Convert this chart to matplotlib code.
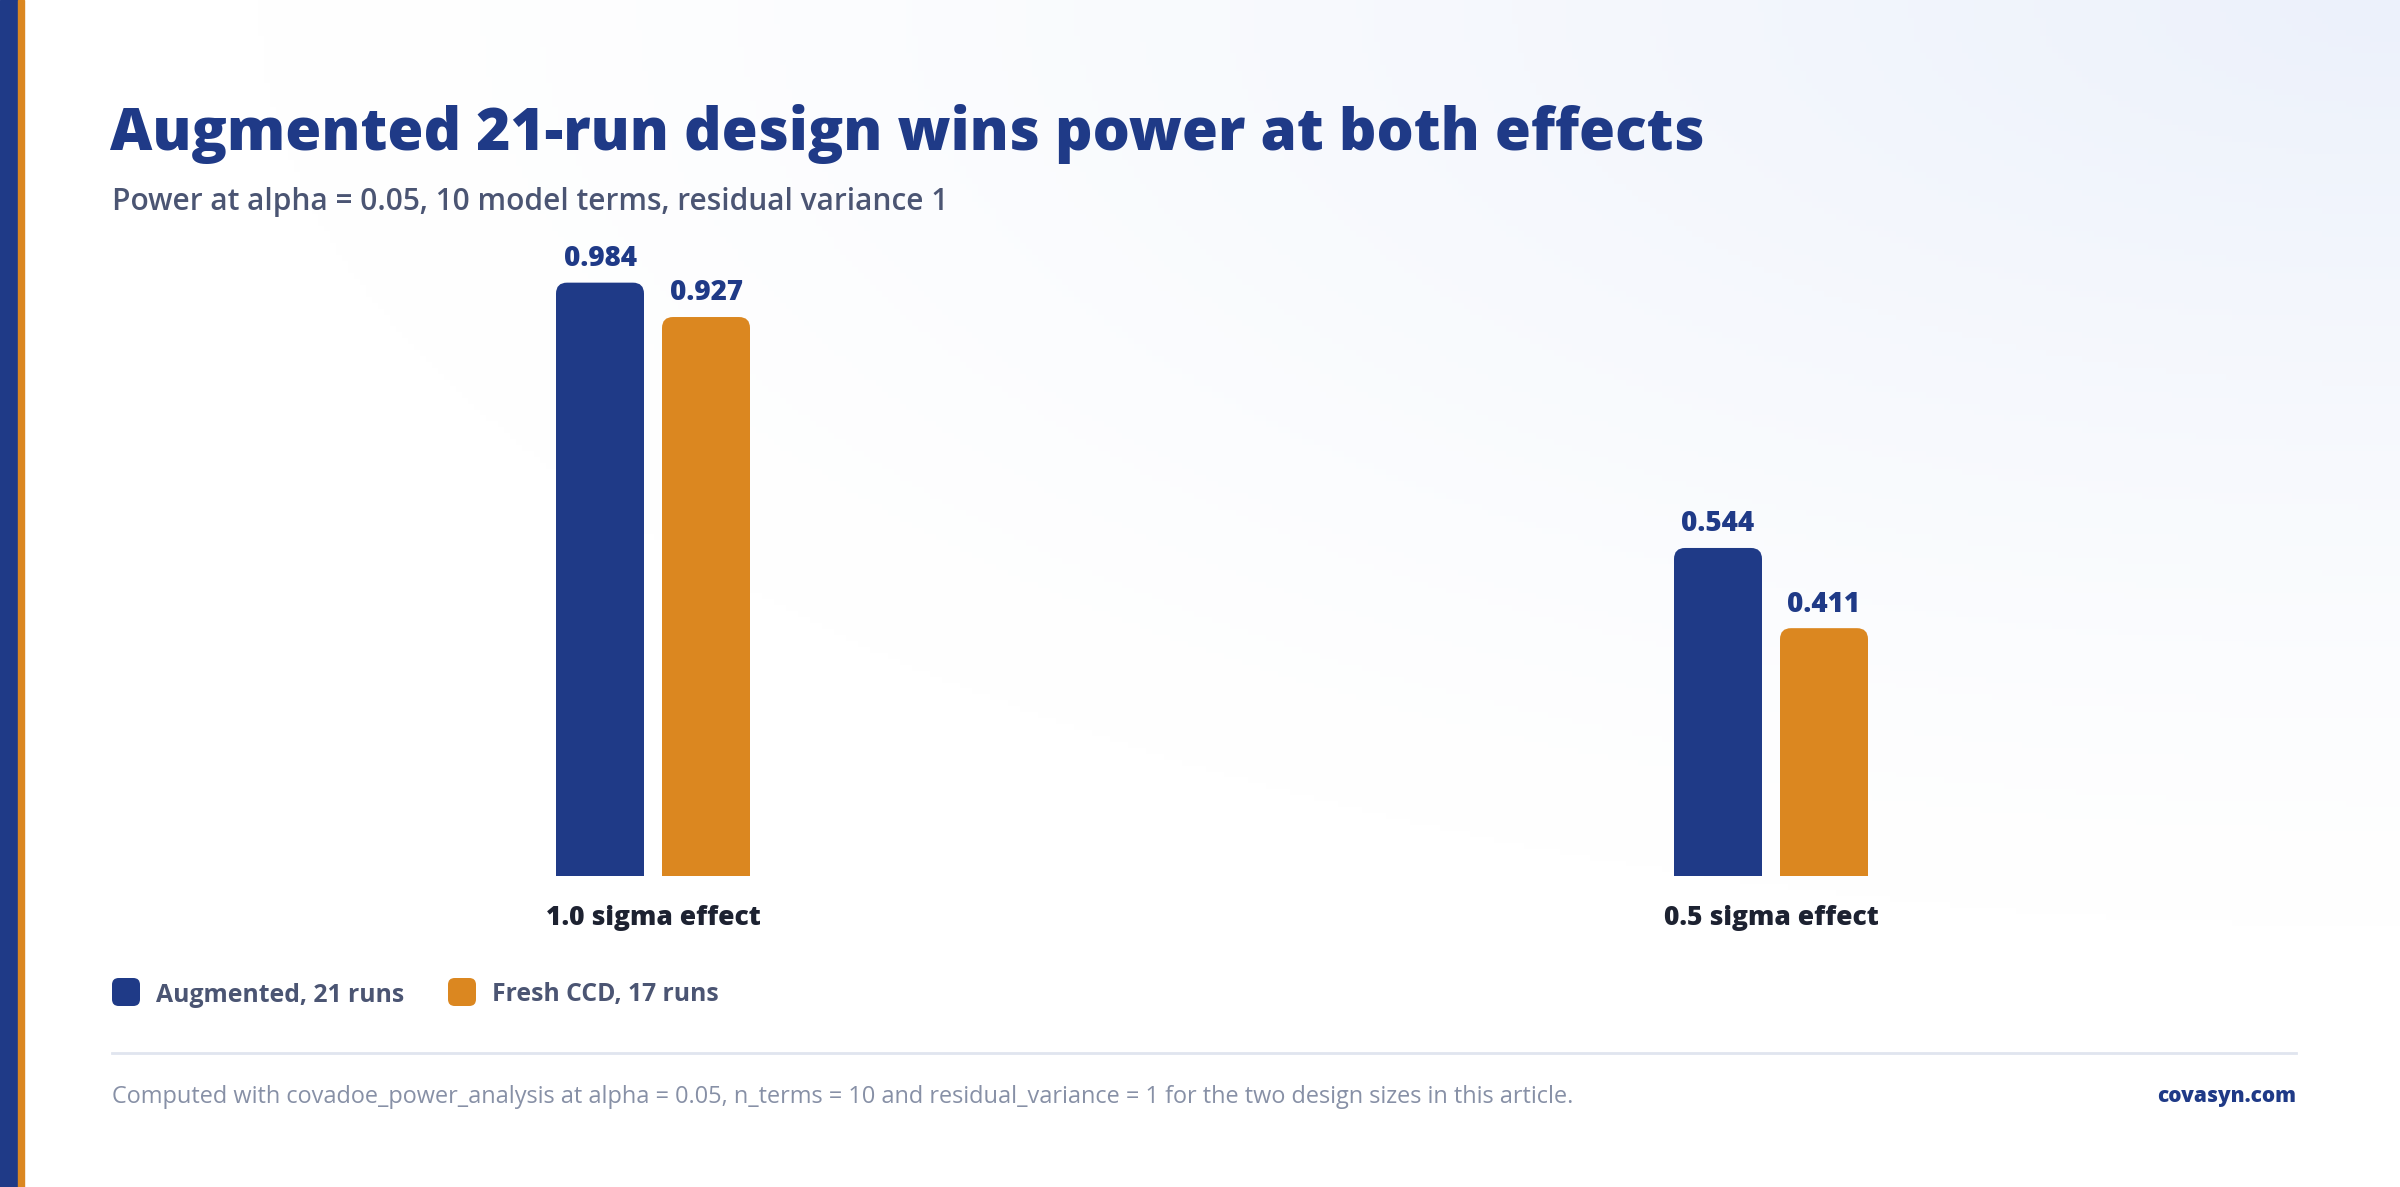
import numpy as np
import matplotlib
matplotlib.use("Agg")
import matplotlib.pyplot as plt
from matplotlib.patches import FancyBboxPatch, Rectangle
from matplotlib import font_manager

# data
categories = ["1.0 sigma effect", "0.5 sigma effect"]
series_names = ["Augmented, 21 runs", "Fresh CCD, 17 runs"]
augmented = [0.984, 0.544]
fresh_ccd = [0.927, 0.411]

NAVY = "#1f3a87"
ORANGE = "#db8720"
TITLE = "Augmented 21-run design wins power at both effects"
SUBTITLE = "Power at alpha = 0.05, 10 model terms, residual variance 1"
FOOTER = ("Computed with covadoe_power_analysis at alpha = 0.05, n_terms = 10 "
          "and residual_variance = 1 for the two design sizes in this article.")

names = {f.name for f in font_manager.fontManager.ttflist}
FONT = "Open Sans" if "Open Sans" in names else "DejaVu Sans"
plt.rcParams["font.family"] = [FONT, "DejaVu Sans"]

W, H = 2400, 1187
fig = plt.figure(figsize=(W / 100, H / 100), dpi=100)
fig.patch.set_facecolor("white")


def px(x, y):
    # pixel (top-left origin) -> figure fraction
    return x / W, 1 - y / H


# background gradient, light blue in the top-right corner
bg = fig.add_axes([0, 0, 1, 1], zorder=-10)
gx, gy = np.meshgrid(np.linspace(0, 1, 400), np.linspace(0, 1, 200))
d = np.sqrt(((1 - gx) * 1.4) ** 2 + (gy * 1.6) ** 2)
t = np.clip(1 - d / 1.25, 0, 1) ** 1.3
c0 = np.array([1.0, 1.0, 1.0])
c1 = np.array([0xec, 0xf1, 0xfb]) / 255
img = c0[None, None, :] * (1 - t[..., None]) + c1[None, None, :] * t[..., None]
bg.imshow(img, aspect="auto", extent=[0, 1, 0, 1], origin="upper")
bg.axis("off")

# left stripes
fig.patches.append(Rectangle((0, 0), 18 / W, 1, transform=fig.transFigure,
                             color=NAVY, zorder=5))
fig.patches.append(Rectangle((18 / W, 0), 6 / W, 1, transform=fig.transFigure,
                             color=ORANGE, zorder=5))

# titles
fig.text(*px(110, 150), TITLE, fontsize=42, fontweight="heavy", color=NAVY,
         va="baseline", ha="left")
fig.text(*px(112, 210), SUBTITLE, fontsize=21.5, fontweight=600, color="#4b5573",
         va="baseline", ha="left")

# chart axes: groups at x=0 and x=1 (653 px and 1771 px)
x0_px, x1_px = 653, 1771
unit = x1_px - x0_px
ax_left, ax_right = 112, 2296
y_bottom, y_top = 876, 273
ax = fig.add_axes([ax_left / W, (H - y_bottom) / H,
                   (ax_right - ax_left) / W, (y_bottom - y_top) / H])
ax.set_xlim((ax_left - x0_px) / unit, (ax_right - x0_px) / unit)
ax.set_ylim(0, 1)
ax.patch.set_alpha(0)
for s in ax.spines.values():
    s.set_visible(False)
ax.set_yticks([])

x = np.arange(len(categories))
bw = 88 / unit
off = 53 / unit
aspect = unit / (y_bottom - y_top)
radius = 11 / unit

for vals, col, sign in [(augmented, NAVY, -1), (fresh_ccd, ORANGE, 1)]:
    bars = ax.bar(x + sign * off, vals, width=bw, color=col)
    for b, v in zip(bars, vals):
        b.set_visible(False)
        bx, by, w, h = b.get_x(), b.get_y(), b.get_width(), b.get_height()
        ax.add_patch(FancyBboxPatch((bx, by), w, h,
                                    boxstyle=f"round,pad=0,rounding_size={radius}",
                                    mutation_aspect=aspect, fc=col, ec="none"))
        ax.add_patch(Rectangle((bx, by), w, h / 2, fc=col, ec="none"))
        ax.annotate(f"{v:.3f}", (bx + w / 2, by + h), xytext=(0, 12),
                    textcoords="offset points", ha="center", va="baseline",
                    fontsize=20, fontweight="heavy", color=NAVY)

ax.set_xticks(x)
ax.set_xticklabels(categories, fontsize=19, fontweight="heavy", color="#1d2231")
ax.tick_params(axis="x", length=0, pad=21)

# legend
leg_items = [(112, NAVY, series_names[0]), (448, ORANGE, series_names[1])]
for lx, col, name in leg_items:
    fig.patches.append(FancyBboxPatch(((lx) / W, (H - 1006) / H), 28 / W, 28 / H,
                                      boxstyle="round,pad=0,rounding_size=0.0028",
                                      mutation_aspect=W / H,
                                      transform=fig.transFigure, fc=col, ec="none"))
    fig.text(*px(lx + 44, 992), name, fontsize=17.8, fontweight="bold",
             color="#4b5573", va="center_baseline", ha="left")

# separator and footer
fig.add_artist(plt.Line2D([112 / W, 2296 / W], [1 - 1053 / H] * 2,
                          transform=fig.transFigure, color="#e0e5ef", lw=2))
fig.text(*px(112, 1094), FOOTER, fontsize=16.9, color="#8790a6",
         va="center_baseline", ha="left")
fig.text(*px(2296, 1094), "covasyn.com", fontsize=15, fontweight="heavy",
         color=NAVY, va="center_baseline", ha="right")

fig.savefig("out.png", dpi=100, facecolor=fig.get_facecolor())
